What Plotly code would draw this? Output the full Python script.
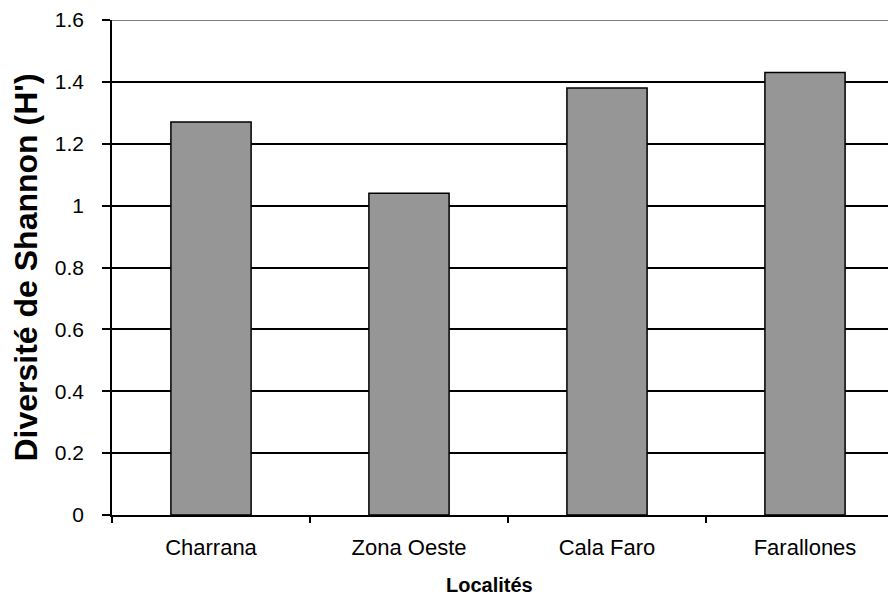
import plotly.graph_objects as go

categories = ["Charrana", "Zona Oeste", "Cala Faro", "Farallones"]
values = [1.27, 1.04, 1.38, 1.43]
y_ticks = [0, 0.2, 0.4, 0.6, 0.8, 1.0, 1.2, 1.4, 1.6]
y_ticklabels = ["0", "0.2", "0.4", "0.6", "0.8", "1", "1.2", "1.4", "1.6"]
x_title = "Localités"
y_title = "Diversité de Shannon (H')"

fig = go.Figure()
fig.add_trace(go.Bar(
    x=categories, y=values,
    marker=dict(color="#969696", line=dict(color="black", width=1.5)),
    width=0.405,
))

fig.update_layout(
    width=896, height=595,
    margin=dict(l=104, r=0, t=9, b=88),
    plot_bgcolor="white", paper_bgcolor="white",
    font=dict(family="Liberation Sans, Arial", color="black"),
    showlegend=False,
)
fig.update_xaxes(
    type="category", range=[-0.5, 3.5],
    tickson="boundaries", ticks="outside", ticklen=6, tickwidth=1.5, tickcolor="black",
    showline=True, linecolor="black", linewidth=1.5, showgrid=False,
    tickfont=dict(size=22), ticklabelstandoff=12, ticklabeloverflow="allow",
)
fig.update_yaxes(
    range=[0, 1.6], tickvals=y_ticks, ticktext=y_ticklabels,
    ticks="outside", ticklen=8, tickwidth=1.5, tickcolor="black",
    showline=True, linecolor="black", linewidth=1.5,
    showgrid=True, gridcolor="black", gridwidth=1.5,
    tickfont=dict(size=21), zeroline=False, ticklabelstandoff=14,
    ticklabeloverflow="allow",
    title=dict(text="<b>" + y_title + "</b>", font=dict(size=32), standoff=13),
)
fig.add_shape(type="line", xref="paper", yref="y", x0=0, x1=1, y0=1.6, y1=1.6,
              line=dict(color="#808080", width=2))
fig.add_annotation(
    text="<b>" + x_title + "</b>", xref="paper", yref="paper",
    x=0.477, y=-0.141, xanchor="center", yanchor="middle",
    showarrow=False, font=dict(size=20),
)

fig.write_html("out.html")
